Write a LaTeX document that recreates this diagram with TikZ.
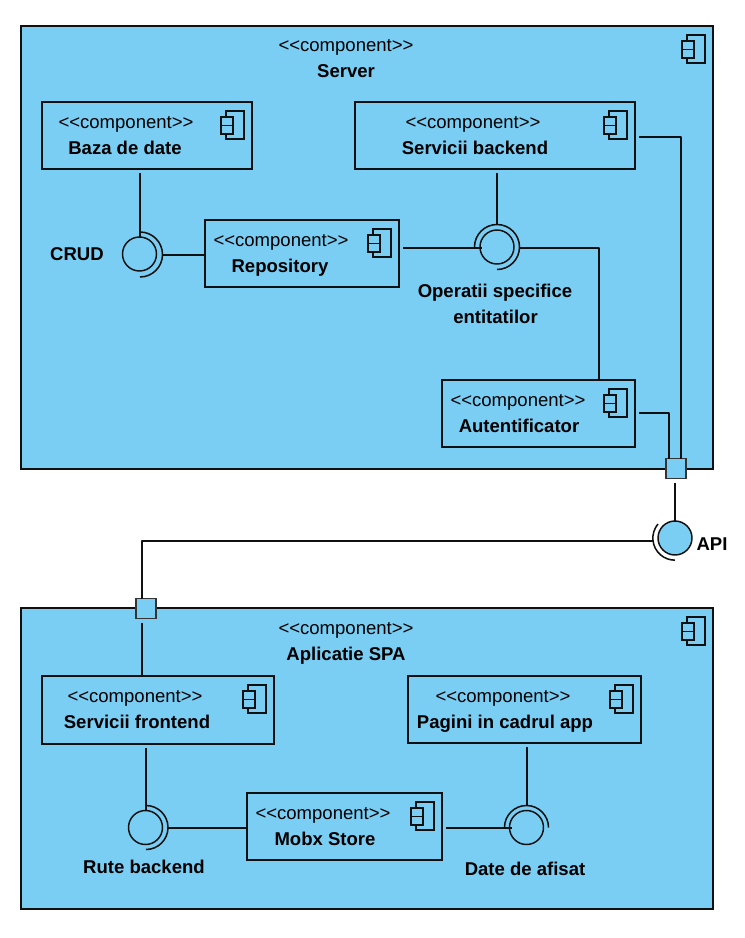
\documentclass[tikz,border=0pt]{standalone}
\usepackage{fontspec}
\setmainfont{Liberation Sans}
\definecolor{compfill}{HTML}{7ACEF4}
\definecolor{ink}{HTML}{101010}
\tikzset{
  compbox/.style={draw=ink,fill=compfill,line width=1.05pt,rectangle,inner sep=0pt,outer sep=0pt},
  stereo/.style={font=\fontsize{13.9pt}{16pt}\selectfont,inner sep=0pt,anchor=base,yshift=-4.85pt},
  title/.style={font=\fontsize{13.9pt}{16pt}\selectfont\bfseries,inner sep=0pt,anchor=base,yshift=-4.85pt},
  conn/.style={draw=ink,line width=1.15pt,line join=round},
  iconline/.style={draw=ink,line width=1pt,fill=compfill},
  ball/.style={circle,draw=ink,line width=1.1pt,minimum size=25.5pt,inner sep=0pt,outer sep=0pt},
  portbox/.style={draw=ink!85,fill=compfill,line width=1.05pt,rectangle,minimum size=15pt,inner sep=0pt,outer sep=0pt},
}
% name, x1, y1, x2, y2, stereotype x, y, title x, y (title text in \compname)
\newcommand{\compnode}[9]{%
  \node[compbox,minimum width={(#4-#2)*0.75pt},minimum height={(#5-#3)*0.75pt}] (#1) at ({(#2+#4)/2},{(#3+#5)/2}) {};
  \draw[iconline] (#4-26,#3+9) rectangle (#4-8,#3+37);
  \draw[iconline] (#4-31,#3+15) rectangle (#4-19,#3+23.5);
  \draw[iconline] (#4-31,#3+23.5) rectangle (#4-19,#3+32);
  \node[stereo] (#1-st) at (#6,#7) {<{}<component>{}>};
  \node[title] (#1-ti) at (#8,#9) {\compname};
}
\newcommand{\compname}{}
\begin{document}
\begin{tikzpicture}[x=0.75pt,y=-0.75pt]
\useasboundingbox (0,0) rectangle (744,938);

% Containers
\renewcommand{\compname}{Server}
\compnode{server}{21}{26}{713}{469}{346}{45}{346}{71}
\renewcommand{\compname}{Aplicatie SPA}
\compnode{app}{21}{608}{713}{909}{346}{628}{346}{654}

% Server parts
\renewcommand{\compname}{Baza de date}
\compnode{baza}{42}{102}{252}{169}{126}{122}{125}{148}
\renewcommand{\compname}{Servicii backend}
\compnode{backend}{355}{102}{635}{169}{473}{122}{475}{148}
\renewcommand{\compname}{Repository}
\compnode{repo}{205}{220}{399}{287}{281}{240}{280}{266}
\renewcommand{\compname}{Autentificator}
\compnode{auth}{442}{380}{635}{447}{518}{400}{519}{426}

% App parts
\renewcommand{\compname}{Servicii frontend}
\compnode{front}{42}{676}{274}{744}{135}{696}{137}{722}
\renewcommand{\compname}{Pagini in cadrul app}
\compnode{pagini}{408}{676}{641}{743}{503}{696}{505}{722}
\renewcommand{\compname}{Mobx Store}
\compnode{mobx}{247}{793}{442}{860}{323}{813}{325}{839}

% Interface balls
\node[ball] (crud) at (139.5,254) {};
\node[ball] (oper) at (497,247) {};
\node[ball] (rute) at (145.5,827.5) {};
\node[ball] (date) at (526.5,827.5) {};
\node[ball,fill=compfill] (api) at (675,538) {};

% Ports
\node[portbox] (port1) at (676,468.5) {};
\node[portbox] (port2) at (146,608.5) {};

% Socket arcs (y axis points down, so angles are negated)
\draw[conn] (140,232) arc[start angle=-90,end angle=90,radius=22.5];
\draw[conn] (474.5,247) arc[start angle=-180,end angle=90,radius=22.5];
\draw[conn] (146,805.5) arc[start angle=-90,end angle=90,radius=22];
\draw[conn] (504.5,827.5) arc[start angle=-180,end angle=0,radius=22];
\draw[conn] (658,524) arc[start angle=-140,end angle=-270,radius=22];

% Connectors
\coordinate (crudsock) at (162.5,255);
\coordinate (opersock) at (519.5,248);
\coordinate (rutesock) at (168,828);
\draw[conn,shorten <=3pt] (baza.south -| 140,0) -- (140,237.5);
\draw[conn] (crudsock) -- (repo.west |- crudsock);
\draw[conn,shorten <=3pt] (repo.east |- 0,248) -- (482,248);
\draw[conn,shorten <=3pt] (backend.south -| 497,0) -- (oper.north |- 0,225);
\draw[conn] (opersock) -- (599,248) -- (auth.north -| 599,0);
\draw[conn,shorten <=3pt] (backend.east |- 0,137) -- (681,137) -- (port1.north -| 681,0);
\draw[conn,shorten <=3pt] (auth.east |- 0,413) -- (669,413) -- (port1.north -| 669,0);
\draw[conn,shorten <=3pt] (port1.south -| api.north) -- (api.north);
\draw[conn] (653,541) -- (142,541) -- (port2.north -| 142,0);
\draw[conn,shorten <=3pt] (port2.south -| 142,0) -- (front.north -| 142,0);
\draw[conn,shorten <=3pt] (front.south -| 146,0) -- (146,810);
\draw[conn] (rutesock) -- (mobx.west |- rutesock);
\draw[conn,shorten <=3pt] (mobx.east |- 0,828) -- (512,828);
\draw[conn,shorten <=3pt] (pagini.south -| 527,0) -- (527,805.5);

% Labels
\node[title] (l-crud) at (77,254) {CRUD};
\node[title] (l-oper1) at (495,291) {Operatii specifice};
\node[title] (l-oper2) at (495.5,317) {entitatilor};
\node[title] (l-api) at (712,544) {API};
\node[title] (l-rute) at (144,867) {Rute backend};
\node[title] (l-date) at (525,869) {Date de afisat};
\end{tikzpicture}
\end{document}
